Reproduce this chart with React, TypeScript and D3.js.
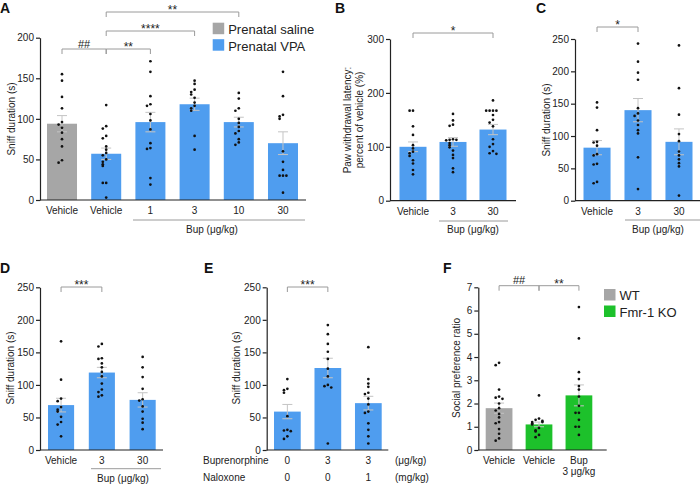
import React, { useEffect, useRef } from "react";
import * as d3 from "d3";

// Panel A - sniff duration, prenatal saline vs prenatal VPA
const aLabels = [["Vehicle"], ["Vehicle"], ["1"], ["3"], ["10"], ["30"]];
const aGroups = ["saline", "vpa", "vpa", "vpa", "vpa", "vpa"];
const aMeans = [94, 57, 96, 118, 96, 70];
const aSems = [10, 7, 12, 7.5, 6, 14];
const aPoints = [
  [155, 147, 127, 113, 96, 93, 89, 83, 75, 66, 49, 46],
  [117, 91, 88, 79, 76, 66, 62, 58, 55, 50, 47, 44, 42, 21, 21, 3],
  [171, 158, 128, 118, 116, 106, 98, 87, 70, 64, 63, 27, 19],
  [147, 143, 136, 133, 130, 126, 120, 116, 113, 110, 79, 62],
  [132, 125, 113, 110, 100, 95, 90, 85, 82, 75, 71, 68],
  [158, 128, 105, 103, 100, 60, 47, 37, 30, 30, 30, 9],
];
const aTicks = [0, 50, 100, 150, 200];
const aSig = [
  { a: 0, b: 1, label: "##" },
  { a: 1, b: 2, label: "**" },
  { a: 1, b: 3, label: "****" },
  { a: 1, b: 4, label: "**" },
];

// Panel B - paw withdrawal latency
const bLabels = [["Vehicle"], ["3"], ["30"]];
const bMeans = [100, 109, 132];
const bSems = [9, 8, 9.5];
const bPoints = [
  [167, 167, 138, 122, 103, 97, 91, 88, 83, 75, 69, 57, 49],
  [161, 149, 141, 139, 114, 113, 113, 112, 107, 103, 99, 93, 85, 79, 60, 53],
  [186, 167, 167, 167, 167, 159, 150, 145, 138, 114, 105, 100, 92, 88, 87],
];
const bTicks = [0, 100, 200, 300];
const bSig = [{ a: 0, b: 2, label: "*" }];

// Panel C
const cLabels = [["Vehicle"], ["3"], ["30"]];
const cMeans = [82, 140, 91];
const cSems = [11, 18, 20];
const cPoints = [
  [152, 144, 109, 91, 90, 85, 72, 70, 57, 56, 29, 27],
  [243, 215, 198, 187, 143, 135, 131, 124, 117, 109, 104, 67, 18],
  [240, 174, 133, 103, 92, 76, 70, 64, 58, 53, 8],
];
const cTicks = [0, 50, 100, 150, 200, 250];
const cSig = [{ a: 0, b: 1, label: "*" }];

// Panel D
const dLabels = [["Vehicle"], ["3"], ["30"]];
const dMeans = [69, 119, 77];
const dSems = [10.5, 8, 11];
const dPoints = [
  [167, 108, 79, 75, 66, 62, 59, 51, 43, 39, 21],
  [163, 159, 141, 140, 133, 127, 120, 113, 102, 93, 89, 84, 82],
  [143, 127, 112, 94, 78, 76, 67, 59, 48, 42, 32],
];
const dSig = [{ a: 0, b: 1, label: "***" }];

// Panel E - buprenorphine / naloxone
const eBup = ["0", "3", "3"];
const eNal = ["0", "0", "1"];
const eMeans = [59, 126, 72];
const eSems = [11, 15, 10.5];
const ePoints = [
  [109, 94, 92, 88, 52, 31, 30, 29, 21, 17],
  [192, 178, 163, 151, 140, 125, 113, 100, 98, 96, 10],
  [158, 109, 102, 97, 88, 86, 79, 70, 59, 57, 41, 31, 21, 10],
];
const eSig = [{ a: 0, b: 1, label: "***" }];

// Panel F - Fmr-1 KO
const fLabels = [["Vehicle"], ["Vehicle"], ["Bup", "3 μg/kg"]];
const fGroups = ["wt", "ko", "ko"];
const fMeans = [1.8, 1.1, 2.35];
const fSems = [0.22, 0.1, 0.45];
const fPoints = [
  [3.75, 3.65, 2.6, 2.3, 2.25, 2.2, 2.0, 1.8, 1.7, 1.55, 1.4, 1.2, 1.15, 0.9, 0.7, 0.5, 0.4],
  [2.35, 1.35, 1.3, 1.25, 1.2, 1.2, 1.15, 1.1, 0.95, 0.85, 0.8, 0.65, 0.55],
  [6.15, 4.8, 3.35, 3.05, 2.75, 2.6, 2.3, 1.9, 1.6, 1.6, 1.3, 1.0, 1.0, 0.65],
];
const fTicks = [0, 1, 2, 3, 4, 5, 6, 7];
const fSig = [
  { a: 0, b: 1, label: "##" },
  { a: 1, b: 2, label: "**" },
];

const COLORS: Record<string, string> = {
  saline: "#a6a6a6",
  vpa: "#4f9def",
  wt: "#a6a6a6",
  ko: "#1dc12b",
};
const FONT = "'Liberation Sans', Arial, sans-serif";
const INK = "#222";

type Sig = { a: number; b: number; label: string };
type PanelCfg = {
  letter: string;
  letterPos: [number, number];
  labels: string[][] | null;
  groups: string[];
  means: number[];
  sems: number[];
  points: number[][];
  yMax: number;
  ticks: number[];
  axisX: [number, number];
  yRange: [number, number];
  bars: [number, number];
  pad: number;
  title: string[];
  titlePos: [number, number];
  sig: Sig[];
  sigY: number[];
  bup?: { x0: number; x1: number; y: number; textX: number; textY: number };
};

const drawPanel = (svg: any, p: PanelCfg) => {
  const g = svg.append("g");
  const n = p.means.length;
  const x = d3.scaleBand<number>().domain(d3.range(n)).range(p.bars).paddingInner(p.pad).paddingOuter(0);
  const y = d3.scaleLinear().domain([0, p.yMax]).range(p.yRange);
  const bw = x.bandwidth();
  const cx = (i: number) => (x(i) as number) + bw / 2;

  // panel letter
  g.append("text").attr("x", p.letterPos[0]).attr("y", p.letterPos[1])
    .style("font", `bold 14px ${FONT}`).attr("fill", "#111").text(p.letter);

  // bars
  g.selectAll(".bar").data(p.means).enter().append("rect")
    .attr("x", (_: number, i: number) => x(i))
    .attr("width", bw)
    .attr("y", (d: number) => y(d))
    .attr("height", (d: number) => y(0) - y(d))
    .attr("fill", (_: number, i: number) => COLORS[p.groups[i]]);

  // error bars (mean ± SEM)
  p.means.forEach((m, i) => {
    const c = cx(i);
    const lo = y(m - p.sems[i]);
    const hi = y(m + p.sems[i]);
    const eb = g.append("g").attr("stroke", "#c4c4c4").attr("stroke-width", 1);
    eb.append("line").attr("x1", c).attr("x2", c).attr("y1", lo).attr("y2", hi);
    eb.append("line").attr("x1", c - 5).attr("x2", c + 5).attr("y1", lo).attr("y2", lo);
    eb.append("line").attr("x1", c - 5).attr("x2", c + 5).attr("y1", hi).attr("y2", hi);
  });

  // individual animals
  p.points.forEach((vals, i) => {
    const placed: number[] = [];
    vals.forEach((v) => {
      const py = y(v);
      const near = placed.filter((q) => Math.abs(q - py) < 3).length;
      const dx = near === 0 ? 0 : (near % 2 ? -1 : 1) * Math.ceil(near / 2) * 3.4;
      placed.push(py);
      g.append("circle").attr("cx", cx(i) + dx).attr("cy", py).attr("r", 1.35).attr("fill", "#111");
    });
  });

  // y axis
  const ya = g.append("g").attr("transform", `translate(${p.axisX[0]},0)`)
    .call(d3.axisLeft(y).tickValues(p.ticks).tickFormat((d: any) => String(d))
      .tickSize(4).tickSizeOuter(0).tickPadding(2));
  ya.selectAll("path,line").attr("stroke", INK).attr("stroke-width", 1.2);
  ya.selectAll("text").style("font", `10px ${FONT}`).attr("fill", INK);

  // x axis (no ticks, like the original)
  g.append("line").attr("x1", p.axisX[0]).attr("x2", p.axisX[1])
    .attr("y1", y(0)).attr("y2", y(0)).attr("stroke", INK).attr("stroke-width", 1.2);
  if (p.labels) {
    d3.range(n).forEach((i) => {
      p.labels![i].forEach((line, k) => {
        g.append("text").attr("x", cx(i)).attr("y", y(0) + 14 + k * 11)
          .attr("text-anchor", "middle").style("font", `10px ${FONT}`).attr("fill", INK).text(line);
      });
    });
  }

  // y title
  p.title.forEach((t, k) => {
    g.append("text")
      .attr("transform", `translate(${p.titlePos[0] + k * 12},${p.titlePos[1]}) rotate(-90)`)
      .attr("text-anchor", "middle").style("font", `10px ${FONT}`).attr("fill", INK).text(t);
  });

  // significance brackets
  p.sig.forEach((s, k) => {
    const yy = p.sigY[k];
    const x1 = cx(s.a);
    const x2 = cx(s.b);
    g.append("path").attr("d", `M${x1},${yy + 5}V${yy}H${x2}V${yy + 5}`)
      .attr("fill", "none").attr("stroke", "#9a9a9a").attr("stroke-width", 1);
    const hash = s.label.startsWith("#");
    g.append("text").attr("x", (x1 + x2) / 2).attr("y", hash ? yy - 1.5 : yy + 2)
      .attr("text-anchor", "middle").style("font", `${hash ? 11 : 12}px ${FONT}`)
      .attr("fill", INK).text(s.label);
  });

  if (p.bup) {
    g.append("line").attr("x1", p.bup.x0).attr("x2", p.bup.x1).attr("y1", p.bup.y).attr("y2", p.bup.y)
      .attr("stroke", "#9a9a9a").attr("stroke-width", 1);
    g.append("text").attr("x", p.bup.textX).attr("y", p.bup.textY).attr("text-anchor", "middle")
      .style("font", `10px ${FONT}`).attr("fill", INK).text("Bup (μg/kg)");
  }
  return { x, y, cx };
};

const legend = (svg: any, x: number, y: number, items: [string, string][]) => {
  items.forEach(([key, label], i) => {
    svg.append("rect").attr("x", x).attr("y", y + i * 16.5).attr("width", 11.5).attr("height", 11.5)
      .attr("fill", COLORS[key]);
    svg.append("text").attr("x", x + 15.5).attr("y", y + i * 16.5 + 11.3)
      .style("font", `13px ${FONT}`).attr("fill", INK).text(label);
  });
};

const App = () => {
  const ref = useRef<SVGSVGElement>(null);

  useEffect(() => {
    const svg = d3.select(ref.current);
    svg.selectAll("*").remove();

    drawPanel(svg, {
      letter: "A", letterPos: [0, 13],
      labels: aLabels, groups: aGroups, means: aMeans, sems: aSems, points: aPoints,
      yMax: 200, ticks: aTicks, axisX: [40, 306], yRange: [200, 37.7],
      bars: [47, 298], pad: 0.321,
      title: ["Sniff duration (s)"], titlePos: [15, 119],
      sig: aSig, sigY: [49, 49, 31, 12],
      bup: { x0: 133, x1: 305, y: 220, textX: 212, textY: 233 },
    });
    legend(svg, 212.7, 22.7, [["saline", "Prenatal saline"], ["vpa", "Prenatal VPA"]]);

    drawPanel(svg, {
      letter: "B", letterPos: [335, 13],
      labels: bLabels, groups: ["vpa", "vpa", "vpa"], means: bMeans, sems: bSems, points: bPoints,
      yMax: 300, ticks: bTicks, axisX: [390, 516], yRange: [200.7, 39],
      bars: [399.5, 506.5], pad: 0.325,
      title: ["Paw withdrawal latency:", "percent of vehicle (%)"], titlePos: [351, 120],
      sig: bSig, sigY: [33],
      bup: { x0: 439, x1: 508, y: 221, textX: 473, textY: 233 },
    });

    drawPanel(svg, {
      letter: "C", letterPos: [536, 13],
      labels: cLabels, groups: ["vpa", "vpa", "vpa"], means: cMeans, sems: cSems, points: cPoints,
      yMax: 250, ticks: cTicks, axisX: [575, 700], yRange: [200.7, 39],
      bars: [583.5, 692.5], pad: 0.34,
      title: ["Sniff duration (s)"], titlePos: [550, 120],
      sig: cSig, sigY: [27],
      bup: { x0: 625, x1: 700, y: 220, textX: 658, textY: 233 },
    });

    drawPanel(svg, {
      letter: "D", letterPos: [0, 273],
      labels: dLabels, groups: ["vpa", "vpa", "vpa"], means: dMeans, sems: dSems, points: dPoints,
      yMax: 250, ticks: cTicks, axisX: [40, 163], yRange: [450, 287.3],
      bars: [48, 155.7], pad: 0.36,
      title: ["Sniff duration (s)"], titlePos: [14, 368],
      sig: dSig, sigY: [287],
      bup: { x0: 91, x1: 161, y: 468.7, textX: 123, textY: 482 },
    });

    const e = drawPanel(svg, {
      letter: "E", letterPos: [204, 273],
      labels: null, groups: ["vpa", "vpa", "vpa"], means: eMeans, sems: eSems, points: ePoints,
      yMax: 250, ticks: cTicks, axisX: [266.7, 388.3], yRange: [450, 287.3],
      bars: [274, 381.7], pad: 0.34,
      title: ["Sniff duration (s)"], titlePos: [240, 368],
      sig: eSig, sigY: [287],
    });
    [
      ["Buprenorphine", eBup, "(μg/kg)", 464],
      ["Naloxone", eNal, "(mg/kg)", 481],
    ].forEach(([name, vals, unit, yy]: any) => {
      svg.append("text").attr("x", 203).attr("y", yy).style("font", `10px ${FONT}`).attr("fill", INK).text(name);
      vals.forEach((v: string, i: number) => {
        svg.append("text").attr("x", e.cx(i)).attr("y", yy).attr("text-anchor", "middle")
          .style("font", `10px ${FONT}`).attr("fill", INK).text(v);
      });
      svg.append("text").attr("x", 395).attr("y", yy).style("font", `10px ${FONT}`).attr("fill", INK).text(unit);
    });

    drawPanel(svg, {
      letter: "F", letterPos: [443, 273],
      labels: fLabels, groups: fGroups, means: fMeans, sems: fSems, points: fPoints,
      yMax: 7, ticks: fTicks, axisX: [478.3, 606.7], yRange: [450, 287.3],
      bars: [485.7, 592.3], pad: 0.33,
      title: ["Social preference ratio"], titlePos: [460, 368],
      sig: fSig, sigY: [285.7, 285.7],
    });
    legend(svg, 604, 289, [["wt", "WT"], ["ko", "Fmr-1 KO"]]);
  }, []);

  return (
    <svg
      ref={ref}
      width={700}
      height={484}
      style={{ position: "absolute", left: 0, top: 0, background: "#fff" }}
    />
  );
};

export default App;
